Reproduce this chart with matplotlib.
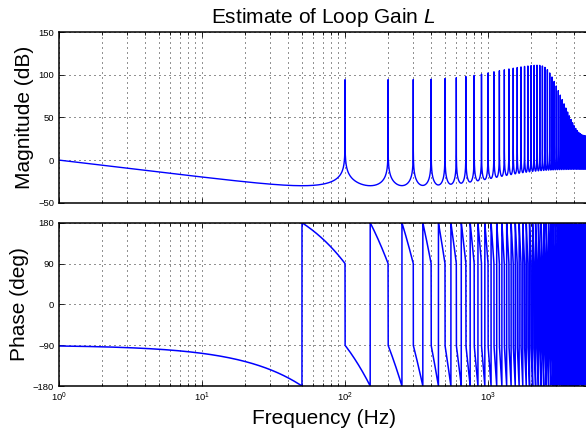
import numpy as np
import matplotlib
matplotlib.use('Agg')
import matplotlib.pyplot as plt
from matplotlib.ticker import LogLocator, NullFormatter

plt.rcParams['font.family'] = ['Liberation Sans', 'DejaVu Sans']
plt.rcParams['mathtext.fontset'] = 'custom'
plt.rcParams['mathtext.rm'] = 'Liberation Sans'
plt.rcParams['mathtext.it'] = 'Liberation Sans:italic'

# loop model: repetitive controller with period T, gain k
period_T = 0.01
gain_k = 0.0628
# zero-phase magnitude shaping (Hz, order)
shape_zero_hz = 650.0
shape_pole_hz = 2000.0
shape_order = 4
# leakage of the Q filter, 1 - |Q|
leak_floor = 1.2e-6
leak_max = 0.0235
leak_corner_hz = 4240.0
leak_order = 20

freq_range = [1.0, 5000.0]
points_per_decade = 5000
mag_range = [-50, 150]
mag_ticks = [-50, 0, 50, 100, 150]
phase_range = [-180, 180]
phase_ticks = [-180, -90, 0, 90, 180]

# frequency grid (log spaced), harmonics of 1/T included
n_dec = np.log10(freq_range[1] / freq_range[0])
harmonics = np.arange(1, int(freq_range[1] * period_T) + 1) / period_T
f = np.union1d(np.logspace(np.log10(freq_range[0]), np.log10(freq_range[1]),
                           int(n_dec * points_per_decade) + 1), harmonics)

# frequency response
x = (f / leak_corner_hz) ** leak_order
q = 1.0 - (leak_floor + leak_max * x / (1.0 + x))
shape = np.sqrt((1 + (f / shape_zero_hz) ** shape_order) / (1 + (f / shape_pole_hz) ** shape_order))
delay = np.exp(-2j * np.pi * f * period_T)
L = gain_k * shape * q * delay / (1.0 - q * delay)

mag_db = 20 * np.log10(np.abs(L))
phase_deg = np.degrees(np.angle(L))

fig = plt.figure(figsize=(5.86, 4.36), dpi=100)
ax1 = fig.add_axes([59 / 586, 1 - 202.7 / 436, 529 / 586, 170.4 / 436])
ax2 = fig.add_axes([59 / 586, 1 - 386 / 436, 529 / 586, 163.3 / 436])

ax1.semilogx(f, mag_db, color='blue', linewidth=1.0)
ax2.semilogx(f, phase_deg, color='blue', linewidth=1.1)

grid_style = dict(linestyle=(0, (1, 4)), color='0.15', linewidth=0.72)
for ax, yr, yt in [(ax1, mag_range, mag_ticks), (ax2, phase_range, phase_ticks)]:
    ax.set_xlim(freq_range)
    ax.set_ylim(yr)
    ax.set_yticks(yt)
    ax.xaxis.set_minor_locator(LogLocator(base=10, subs=np.arange(2, 10), numticks=20))
    ax.xaxis.set_minor_formatter(NullFormatter())
    ax.grid(True, which='major', **grid_style)
    ax.grid(True, which='minor', axis='x', **grid_style)
    ax.tick_params(which='both', direction='in', top=True, right=True, labelsize=6.8, width=0.6)
    ax.tick_params(which='major', length=3.5)
    ax.tick_params(which='minor', length=2)
    for s in ax.spines.values():
        s.set_linewidth(1.1)

ax1.tick_params(labelbottom=False)
ax1.set_ylabel('Magnitude (dB)', fontsize=15, labelpad=3)
ax2.set_ylabel('Phase (deg)', fontsize=15, labelpad=3)
ax2.set_xlabel('Frequency (Hz)', fontsize=15, labelpad=3.5)
ax1.set_title('Estimate of Loop Gain $\\mathit{L}$', fontsize=15, pad=7)

plt.savefig('out.png', dpi=100)
